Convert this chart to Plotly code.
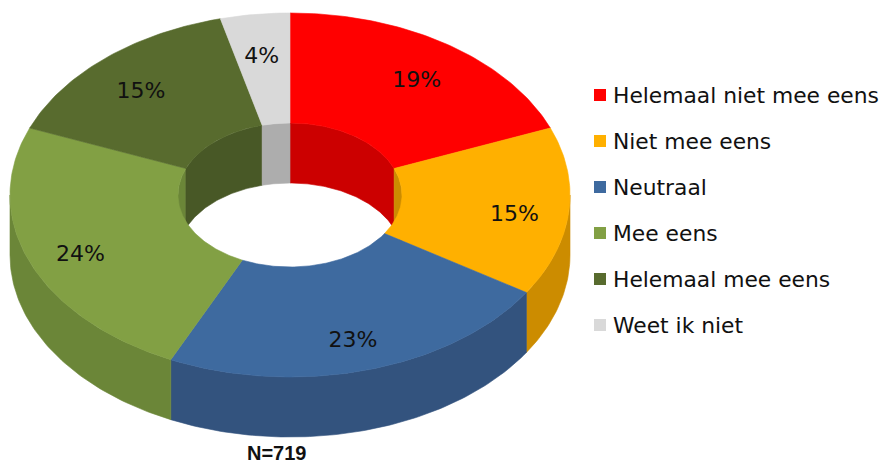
import numpy as np
import plotly.graph_objects as go

categories = ["Helemaal niet mee eens", "Niet mee eens", "Neutraal", "Mee eens", "Helemaal mee eens", "Weet ik niet"]
values = [19, 15, 23, 24, 15, 4]
total_n = 719
face_colors = ["#ff0000", "#ffb000", "#3e6a9f", "#82a044", "#586b2e", "#d9d9d9"]
wall_colors = ["#cc0000", "#cc8c00", "#33537e", "#6b8638", "#485826", "#adadad"]

CX, CY = 290, 195
RX, RY = 280, 182
HX, HY = 112, 72
DEPTH = 60


def pt(theta, rx, ry, dy=0):
    return CX + rx * np.sin(theta), CY + dy - ry * np.cos(theta)


def arc(a, b, rx, ry, dy=0):
    t = np.linspace(a, b, max(int(abs(b - a) * 60), 2))
    return pt(t, rx, ry, dy)


def poly(xs, ys, color):
    x = np.concatenate(xs + [xs[0][:1]])
    y = np.concatenate(ys + [ys[0][:1]])
    return go.Scatter(x=x, y=y, mode="lines", fill="toself", fillcolor=color,
                      line=dict(color=color, width=0.6), hoverinfo="skip", showlegend=False)


fig = go.Figure()
edges = 2 * np.pi * np.concatenate([[0], np.cumsum(values)]) / sum(values)
pairs = list(zip(edges[:-1], edges[1:]))

# inner wall: the back of the hole, seen for angles facing the viewer
for (a, b), c in zip(pairs, wall_colors):
    for lo, hi in [(-np.pi / 2, np.pi / 2), (1.5 * np.pi, 2.5 * np.pi)]:
        s, e = max(a, lo), min(b, hi)
        if e > s:
            x1, y1 = arc(s, e, HX, HY)
            x2, y2 = arc(e, s, HX, HY, DEPTH)
            fig.add_trace(poly([x1, x2], [y1, y2], c))

# outer wall: the front half of the ring
for (a, b), c in zip(pairs, wall_colors):
    s, e = max(a, np.pi / 2), min(b, 1.5 * np.pi)
    if e > s:
        x1, y1 = arc(s, e, RX, RY)
        x2, y2 = arc(e, s, RX, RY, DEPTH)
        fig.add_trace(poly([x1, x2], [y1, y2], c))

# top face of each slice
for (a, b), c in zip(pairs, face_colors):
    x1, y1 = arc(a, b, RX, RY)
    x2, y2 = arc(b, a, HX, HY)
    fig.add_trace(poly([x1, x2], [y1, y2], c))

# percentage labels
mids = [(a + b) / 2 for a, b in pairs]
lx = [CX + 0.805 * RX * np.sin(m) for m in mids]
ly = [CY + 7 - 0.8 * RY * np.cos(m) for m in mids]
fig.add_trace(go.Scatter(x=lx, y=ly, mode="text", text=[f"{v}%" for v in values],
                         textposition="middle center",
                         textfont=dict(family="DejaVu Sans", size=22, color="#111111"),
                         hoverinfo="skip", showlegend=False))

# key
key_y = [95 + 46 * i for i in range(len(categories))]
fig.add_trace(go.Scatter(x=[600] * len(categories), y=key_y, mode="markers",
                         marker=dict(symbol="square", size=12, color=face_colors, line=dict(width=0)),
                         hoverinfo="skip", showlegend=False))
for name, y in zip(categories, key_y):
    fig.add_annotation(x=613, y=y, text=name, showarrow=False, xanchor="left", yanchor="middle",
                       xshift=-2, font=dict(family="DejaVu Sans", size=21.8, color="#111111"))

fig.add_annotation(x=277, y=453, text=f"<b>N={total_n}</b>", showarrow=False, borderpad=0,
                   font=dict(family="Liberation Sans", size=20, color="#111111"))

fig.update_xaxes(range=[0, 884], visible=False, fixedrange=True)
fig.update_yaxes(range=[465, 0], visible=False, fixedrange=True)
fig.update_layout(width=884, height=465, margin=dict(l=0, r=0, t=0, b=0),
                  paper_bgcolor="white", plot_bgcolor="white", showlegend=False)
fig.write_html("out.html", config=dict(displayModeBar=False),
               post_script="document.body.style.margin='0';document.body.style.overflow='hidden';")
